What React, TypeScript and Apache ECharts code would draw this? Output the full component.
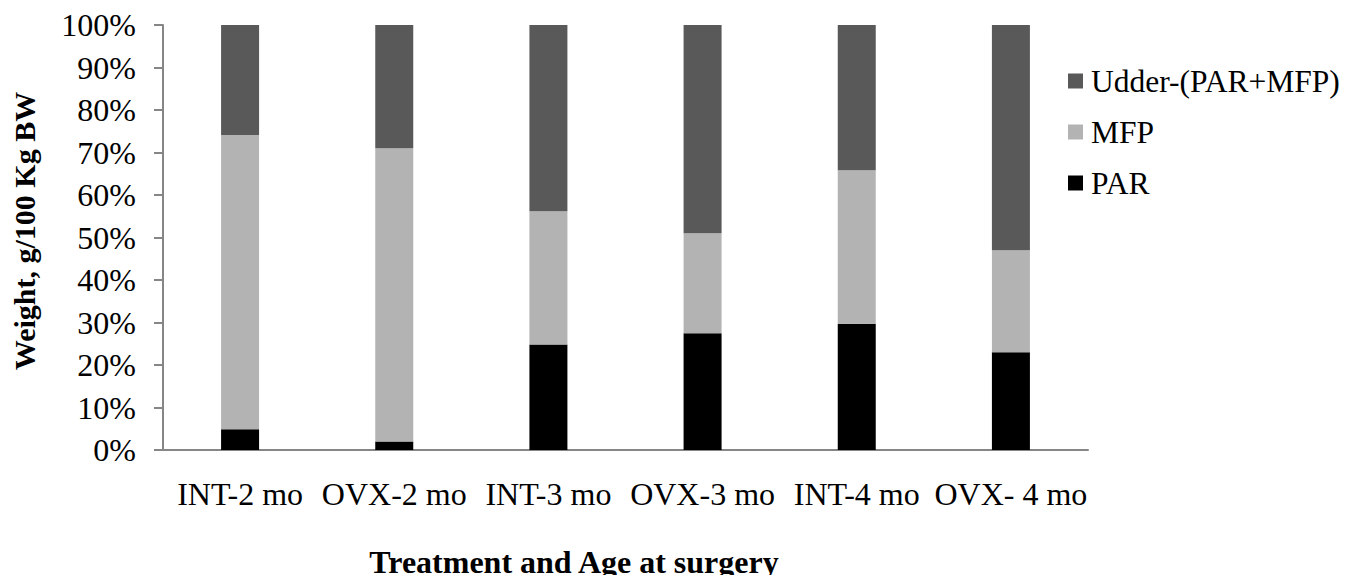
import React, { useEffect, useRef } from "react";
import * as echarts from "echarts";

// Share of udder weight by tissue (percent of total, stacked to 100%)
const categories = ["INT-2 mo", "OVX-2 mo", "INT-3 mo", "OVX-3 mo", "INT-4 mo", "OVX- 4 mo"];
const parValues = [4.9, 2.0, 24.8, 27.5, 29.7, 23.0];
const mfpValues = [69.2, 69.0, 31.4, 23.5, 36.1, 24.0];
const restValues = [25.9, 29.0, 43.8, 49.0, 34.2, 53.0];

const seriesNames = ["PAR", "MFP", "Udder-(PAR+MFP)"];
const legendOrder = ["Udder-(PAR+MFP)", "MFP", "PAR"];
const seriesColors = ["#000000", "#b3b3b3", "#595959"];

const yTicks = { min: 0, max: 100, interval: 10 };
const xTitle = "Treatment and Age at surgery";
const yTitle = "Weight, g/100 Kg BW";

const FONT = "'Liberation Serif', 'Times New Roman', serif";

export default function App() {
  const ref = useRef<HTMLDivElement>(null);

  useEffect(() => {
    if (!ref.current) return;
    const chart = echarts.init(ref.current, undefined, { renderer: "svg" });
    const dataSets = [parValues, mfpValues, restValues];

    chart.setOption({
      animation: false,
      backgroundColor: "#ffffff",
      grid: { left: 163, right: 270, top: 25, bottom: 133, containLabel: false },
      legend: {
        orient: "vertical",
        left: 1068,
        top: 65,
        padding: 0,
        itemWidth: 15,
        itemHeight: 15,
        itemGap: 19,
        icon: "rect",
        data: legendOrder,
        selectedMode: false,
        textStyle: {
          fontFamily: FONT,
          fontSize: 31.5,
          color: "#000",
          lineHeight: 30,
          padding: [0, 0, 0, 3],
        },
      },
      xAxis: {
        type: "category",
        data: categories,
        axisLine: { show: true, lineStyle: { color: "#868686", width: 2 } },
        axisTick: { show: false },
        axisLabel: {
          fontFamily: FONT,
          fontSize: 32,
          color: "#000",
          margin: 28,
          interval: 0,
        },
        splitLine: { show: false },
      },
      yAxis: {
        type: "value",
        min: yTicks.min,
        max: yTicks.max,
        interval: yTicks.interval,
        axisLine: { show: true, lineStyle: { color: "#868686", width: 2 } },
        axisTick: { show: true, length: 9, lineStyle: { color: "#868686", width: 2 } },
        axisLabel: {
          fontFamily: FONT,
          fontSize: 32,
          color: "#000",
          margin: 27,
          formatter: "{value}%",
        },
        splitLine: { show: false },
      },
      graphic: [
        {
          type: "text",
          x: 574,
          y: 562,
          style: {
            text: xTitle,
            fontFamily: FONT,
            fontSize: 32,
            fontWeight: "bold",
            fill: "#000",
            textAlign: "center",
            textVerticalAlign: "middle",
          },
        },
        {
          type: "text",
          x: 24,
          y: 231,
          rotation: Math.PI / 2,
          style: {
            text: yTitle,
            fontFamily: FONT,
            fontSize: 30,
            fontWeight: "bold",
            fill: "#000",
            textAlign: "center",
            textVerticalAlign: "middle",
          },
        },
      ],
      series: seriesNames.map((name, i) => ({
        name,
        type: "bar",
        stack: "total",
        barWidth: 38,
        data: dataSets[i],
        itemStyle: { color: seriesColors[i] },
      })),
    });

    return () => chart.dispose();
  }, []);

  return <div ref={ref} style={{ width: 1358, height: 583, margin: -8 }} />;
}
